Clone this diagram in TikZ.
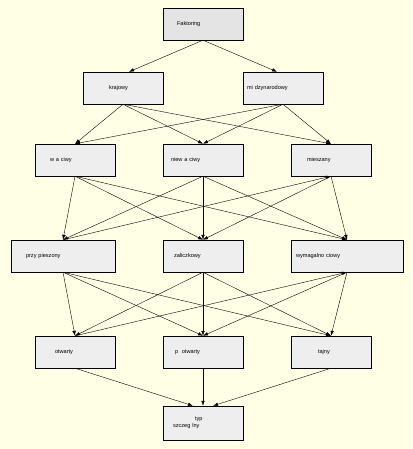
\documentclass[tikz,border=0pt]{standalone}
\usepackage{fontspec}
\setmainfont{Liberation Sans}
\usetikzlibrary{positioning,arrows.meta}
\definecolor{bgyellow}{RGB}{255,255,230}
\definecolor{boxgray}{RGB}{238,238,238}
\definecolor{topgray}{RGB}{228,228,228}

\begin{document}
\begin{tikzpicture}[
      x=1pt, y=-1pt,
      box/.style={draw, fill=boxgray, inner sep=0pt, minimum width=80pt, minimum height=32pt, text width=76pt, align=left, font=\fontsize{5.6}{7}\selectfont},
      arrow/.style={-{Latex[length=5pt,width=3.5pt]}, line width=0.4pt}
    ]
    \fill[bgyellow] (0,0) rectangle (412,449);
    \useasboundingbox (0,0) rectangle (412,449);

    \node[box, fill=topgray] (fakt) at (203,24) {\hspace*{12pt}Faktoring};
    \node[box] (kraj) at (123,88) {\hspace*{24pt}krajowy};
    \node[box] (miedzy) at (283,88) {\hspace*{2pt}mi dzynarodowy};
    \node[box] (wlasc) at (75,160) {\hspace*{13pt}w a ciwy};
    \node[box] (niewl) at (203,160) {\hspace*{6pt}niew a ciwy};
    \node[box] (miesz) at (331,160) {\hspace*{14pt}mieszany};
    \node[box, minimum width=104pt, text width=100pt] (przysp) at (63,256) {\hspace*{13pt}przy pieszony};
    \node[box] (zalicz) at (203,256) {\hspace*{9pt}zaliczkowy};
    \node[box, minimum width=112pt, text width=108pt] (wymag) at (347,256) {\hspace*{3pt}wymagalno ciowy};
    \node[box] (otw) at (75,352) {\hspace*{18pt}otwarty};
    \node[box] (polotw) at (203,352) {\hspace*{10pt}p \ otwarty};
    \node[box] (taj) at (331,352) {\hspace*{25pt}tajny};
    \node[box, minimum height=34pt] (typ) at (203,423) {\hspace*{30pt}typ\\\hspace*{8pt}szczeg lny};

    \draw[arrow] (fakt.south) -- ([xshift=6pt]kraj.north);
    \draw[arrow] (fakt.south) -- ([xshift=-6pt]miedzy.north);

    % kind -> type of claim
    \draw[arrow] (kraj.south) -- (wlasc.north);
    \draw[arrow] (kraj.south) -- (niewl.north);
    \draw[arrow] (kraj.south) -- (miesz.north);
    \draw[arrow] (miedzy.south) -- (wlasc.north);
    \draw[arrow] (miedzy.south) -- (niewl.north);
    \draw[arrow] (miedzy.south) -- (miesz.north);

    \draw[arrow] (wlasc.south) -- (przysp.north);
    \draw[arrow] (wlasc.south) -- (zalicz.north);
    \draw[arrow] (wlasc.south) -- (wymag.north);
    \draw[arrow] (niewl.south) -- (przysp.north);
    \draw[arrow] (niewl.south) -- (zalicz.north);
    \draw[arrow] (niewl.south) -- (wymag.north);
    \draw[arrow] (przysp.north) -- (miesz.south);
    \draw[arrow] (miesz.south) -- (zalicz.north);
    \draw[arrow] (miesz.south) -- (wymag.north);

    \draw[arrow] (przysp.south) -- (otw.north);
    \draw[arrow] (przysp.south) -- (polotw.north);
    \draw[arrow] (przysp.south) -- (taj.north);
    \draw[arrow] (zalicz.south) -- (otw.north);
    \draw[arrow] (zalicz.south) -- (polotw.north);
    \draw[arrow] (zalicz.south) -- (taj.north);
    \draw[arrow] (otw.north) -- (wymag.south);
    \draw[arrow] (wymag.south) -- (polotw.north);
    \draw[arrow] (wymag.south) -- (taj.north);

    \draw[arrow] (otw.south) -- ([xshift=-10pt]typ.north);
    \draw[arrow] (polotw.south) -- (typ.north);
    \draw[arrow] (taj.south) -- ([xshift=10pt]typ.north);
  \end{tikzpicture}
\end{document}
